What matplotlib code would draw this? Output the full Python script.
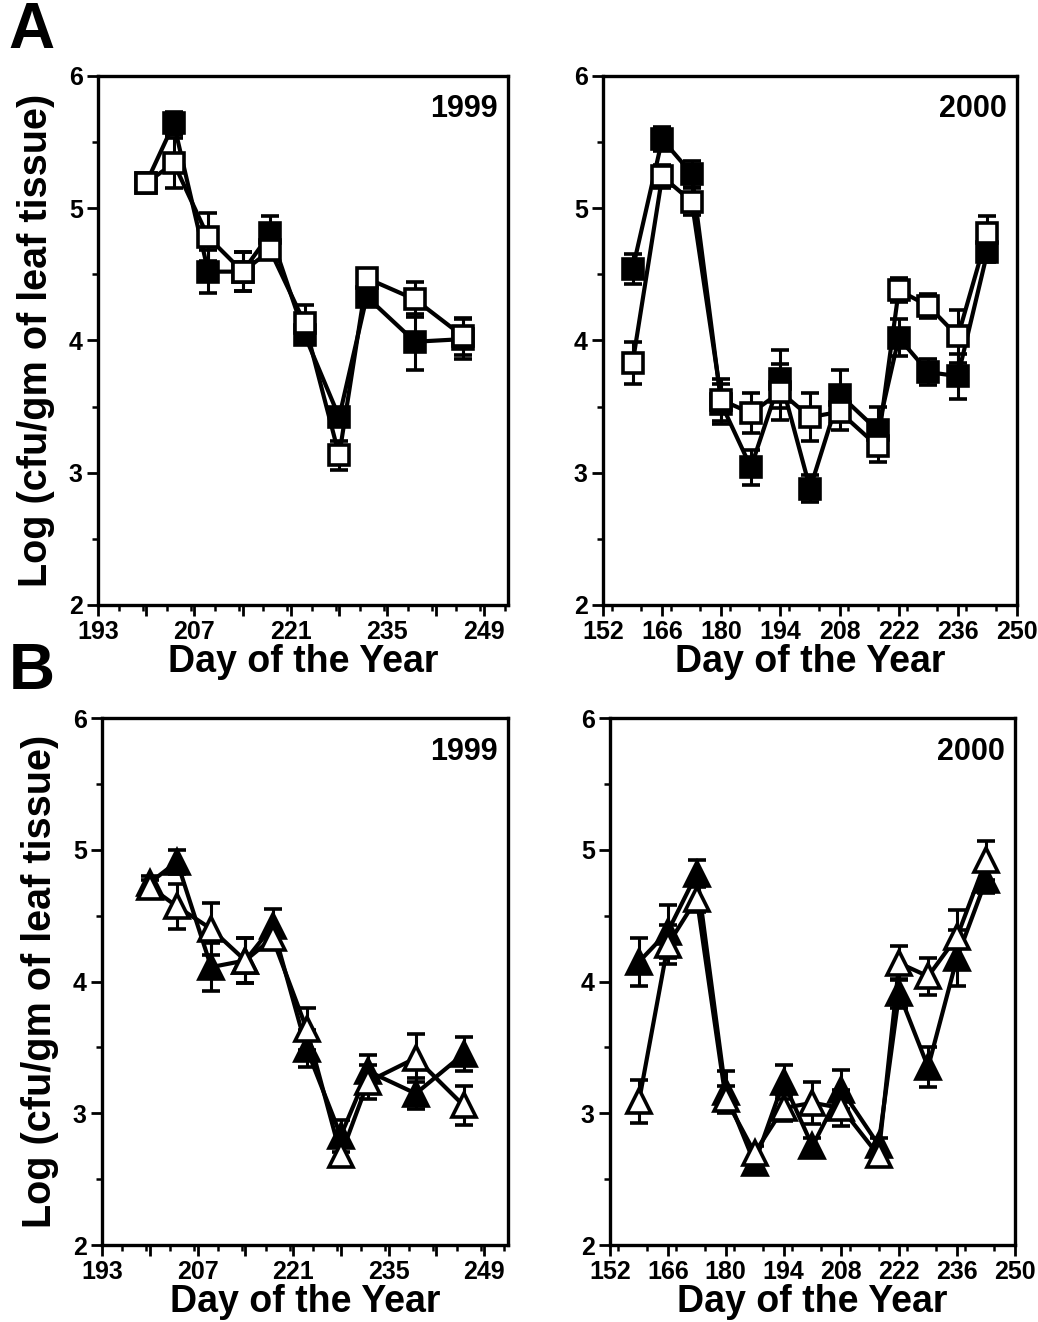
import matplotlib
matplotlib.use("Agg")
import matplotlib.pyplot as plt
from matplotlib.ticker import MultipleLocator, FixedLocator

plt.rcParams["font.family"] = ["Liberation Sans", "DejaVu Sans"]
plt.rcParams["font.weight"] = "bold"

# sampling days
days_1999 = [200, 204, 209, 214, 218, 223, 228, 232, 239, 246]
days_2000 = [159, 166, 173, 180, 187, 194, 201, 208, 217, 222, 229, 236, 243]

# panel A (squares)
a99_filled = [5.19, 5.64, 4.52, 4.52, 4.81, 4.04, 3.42, 4.33, 3.99, 4.01]
a99_filled_err = [0.04, 0.09, 0.16, 0.15, 0.13, 0.04, 0.06, 0.06, 0.21, 0.15]
a99_open = [5.19, 5.34, 4.78, 4.52, 4.68, 4.13, 3.13, 4.47, 4.31, 4.03]
a99_open_err = [0.04, 0.19, 0.18, 0.15, 0.06, 0.14, 0.11, 0.05, 0.13, 0.14]

a00_filled = [4.54, 5.52, 5.26, 3.52, 3.04, 3.71, 2.88, 3.59, 3.32, 4.02, 3.76, 3.73, 4.67]
a00_filled_err = [0.11, 0.09, 0.10, 0.15, 0.13, 0.22, 0.10, 0.19, 0.18, 0.14, 0.10, 0.17, 0.08]
a00_open = [3.83, 5.24, 5.05, 3.55, 3.45, 3.61, 3.42, 3.46, 3.20, 4.38, 4.26, 4.03, 4.81]
a00_open_err = [0.16, 0.09, 0.10, 0.16, 0.15, 0.21, 0.18, 0.14, 0.12, 0.09, 0.09, 0.20, 0.13]

# panel B (triangles)
b99_filled = [4.75, 4.91, 4.11, 4.16, 4.42, 3.49, 2.83, 3.32, 3.15, 3.45]
b99_filled_err = [0.05, 0.09, 0.18, 0.17, 0.13, 0.14, 0.12, 0.12, 0.12, 0.13]
b99_open = [4.72, 4.57, 4.40, 4.16, 4.33, 3.64, 2.68, 3.24, 3.42, 3.06]
b99_open_err = [0.05, 0.17, 0.20, 0.17, 0.06, 0.16, 0.08, 0.13, 0.18, 0.15]

b00_filled = [4.15, 4.38, 4.82, 3.16, 2.62, 3.24, 2.75, 3.18, 2.76, 3.91, 3.35, 4.18, 4.77]
b00_filled_err = [0.18, 0.20, 0.10, 0.16, 0.05, 0.13, 0.06, 0.15, 0.05, 0.11, 0.15, 0.21, 0.10]
b00_open = [3.09, 4.28, 4.63, 3.11, 2.70, 3.04, 3.08, 3.04, 2.68, 4.14, 4.04, 4.34, 4.92]
b00_open_err = [0.16, 0.15, 0.10, 0.10, 0.05, 0.10, 0.16, 0.14, 0.05, 0.13, 0.14, 0.20, 0.15]

ticks_1999 = [193, 207, 221, 235, 249]
ticks_2000 = [152, 166, 180, 194, 208, 222, 236, 250]
y_ticks = [2, 3, 4, 5, 6]


def draw_series(ax, x, y, err, marker, ms, filled):
    face = "black" if filled else "white"
    ax.errorbar(
        x, y, yerr=err, color="black", lw=3.0, marker=marker, ms=ms,
        mfc=face, mec="black", mew=2.6, elinewidth=2.2, capsize=6.5,
        capthick=2.8, zorder=4 if filled else 5,
    )


def style_axis(ax, xlim, xticks, minor_step, label_ticks, year, ylabel):
    ax.set_xlim(*xlim)
    ax.set_ylim(2, 6)
    ax.xaxis.set_major_locator(FixedLocator(xticks))
    ax.set_xticklabels([str(t) if t in label_ticks else "" for t in xticks])
    ax.xaxis.set_minor_locator(MultipleLocator(minor_step))
    ax.yaxis.set_major_locator(FixedLocator(y_ticks))
    ax.yaxis.set_minor_locator(MultipleLocator(0.5))
    ax.tick_params(which="major", direction="out", length=8, width=2.0,
                   labelsize=18, top=False, right=False, pad=3)
    ax.tick_params(which="minor", direction="out", length=4.5, width=1.8,
                   top=False, right=False)
    for lab in ax.get_xticklabels() + ax.get_yticklabels():
        lab.set_fontweight("bold")
    for sp in ax.spines.values():
        sp.set_linewidth(2.4)
    ax.set_xlabel("Day of the Year", fontsize=27, fontweight="bold", labelpad=0)
    if ylabel:
        ax.set_ylabel("Log (cfu/gm of leaf tissue)", fontsize=28.5,
                      fontweight="bold", labelpad=10)
    ax.text(0.975, 0.965, year, transform=ax.transAxes, ha="right", va="top",
            fontsize=22, fontweight="bold")


fig = plt.figure(figsize=(10.38, 13.22), dpi=100)

ax_a1 = fig.add_axes([0.0944, 0.5424, 0.395, 0.4002])
ax_a2 = fig.add_axes([0.581, 0.5424, 0.3988, 0.4002])
ax_b1 = fig.add_axes([0.0983, 0.0582, 0.391, 0.3986])
ax_b2 = fig.add_axes([0.5877, 0.0582, 0.390, 0.3986])

draw_series(ax_a1, days_1999, a99_filled, a99_filled_err, "s", 14, True)
draw_series(ax_a1, days_1999, a99_open, a99_open_err, "s", 14, False)
draw_series(ax_a2, days_2000, a00_filled, a00_filled_err, "s", 14, True)
draw_series(ax_a2, days_2000, a00_open, a00_open_err, "s", 14, False)
draw_series(ax_b1, days_1999, b99_filled, b99_filled_err, "^", 17, True)
draw_series(ax_b1, days_1999, b99_open, b99_open_err, "^", 17, False)
draw_series(ax_b2, days_2000, b00_filled, b00_filled_err, "^", 17, True)
draw_series(ax_b2, days_2000, b00_open, b00_open_err, "^", 17, False)

ticks99 = list(range(193, 253, 7))
ticks00 = list(range(152, 251, 14))
style_axis(ax_a1, (193, 252.5), ticks99, 3.5, ticks_1999, "1999", True)
style_axis(ax_a2, (152, 250), ticks00, 7, ticks_2000, "2000", False)
style_axis(ax_b1, (193, 252.5), ticks99, 3.5, ticks_1999, "1999", True)
style_axis(ax_b2, (152, 250), ticks00, 7, ticks_2000, "2000", False)

fig.text(0.008, 0.999, "A", fontsize=46, fontweight="bold", va="top", ha="left")
fig.text(0.008, 0.514, "B", fontsize=46, fontweight="bold", va="top", ha="left")

fig.savefig("out.png", dpi=100)
